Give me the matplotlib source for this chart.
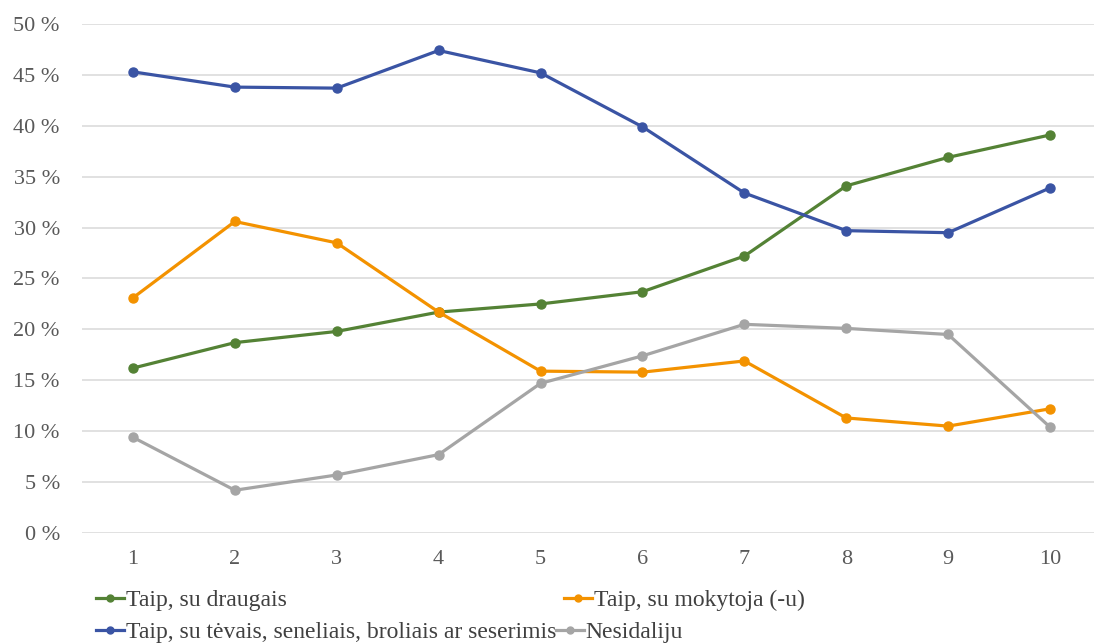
import numpy as np
import matplotlib
matplotlib.use("Agg")
import matplotlib.pyplot as plt
from matplotlib.lines import Line2D
from matplotlib.ticker import FuncFormatter

# grades on the x axis
grades = [1, 2, 3, 4, 5, 6, 7, 8, 9, 10]

# shares (%)
draugai = [16.2, 18.7, 19.8, 21.7, 22.5, 23.7, 27.2, 34.1, 36.9, 39.1]
mokytojai = [23.1, 30.6, 28.5, 21.7, 15.9, 15.8, 16.9, 11.3, 10.5, 12.2]
tevai = [45.3, 43.8, 43.7, 47.4, 45.2, 39.9, 33.4, 29.7, 29.5, 33.9]
nesidaliju = [9.4, 4.2, 5.7, 7.7, 14.7, 17.4, 20.5, 20.1, 19.5, 10.4]

series_names = ["Taip, su draugais", "Taip, su mokytoja (-u)",
                "Taip, su tėvais, seneliais, broliais ar seserimis", "Nesidaliju"]
colors = ["#548235", "#F39200", "#3A54A4", "#A5A5A5"]

plt.rcParams['font.family'] = ['Liberation Serif', 'DejaVu Serif']

fig = plt.figure(figsize=(10.94, 6.43), dpi=100)
W, H = 1094, 643
# plot area (pixels): left 82, right 1101 (runs off the canvas like the source), y 0% at 533, 50% at 24
ax = fig.add_axes([82 / W, 1 - 533 / H, 1019 / W, (533 - 24) / H])

x = np.array(grades)
lines = []
for vals, c in zip([draugai, mokytojai, tevai, nesidaliju], colors):
    ln, = ax.plot(x, np.array(vals) / 100, color=c, lw=2.3, marker='o', ms=6.5,
                  solid_joinstyle='round', zorder=3)
    lines.append(ln)

ax.set_xlim(0.5, 10.5)
ax.set_ylim(0, 0.5)
ax.set_yticks(np.arange(0, 0.51, 0.05))
ax.yaxis.set_major_formatter(FuncFormatter(lambda v, p: f"{v * 100:.0f} %"))
ax.set_xticks(grades)
ax.grid(axis='y', color='#D9D9D9', lw=1.1, zorder=0)
for s in ax.spines.values():
    s.set_visible(False)
ax.tick_params(axis='both', length=0, labelsize=16, labelcolor='#595959')
ax.tick_params(axis='y', pad=16)
ax.tick_params(axis='x', pad=12)

# legend laid out like the source: entries flow, second row starts right after the long label
legend_pos = [(96, 600), (564, 600), (96, 632), (556, 632)]
for ln, name, (px, py) in zip(lines, series_names, legend_pos):
    fig.legend([Line2D([], [], color=ln.get_color(), lw=2.3, marker='o', ms=5)], [name],
               loc='center left', bbox_to_anchor=(px / W, 1 - py / H), frameon=False,
               fontsize=17, handlelength=1.2, handletextpad=0.05, borderpad=0,
               borderaxespad=0, labelcolor='#404040')

fig.savefig("out.png", dpi=100)
